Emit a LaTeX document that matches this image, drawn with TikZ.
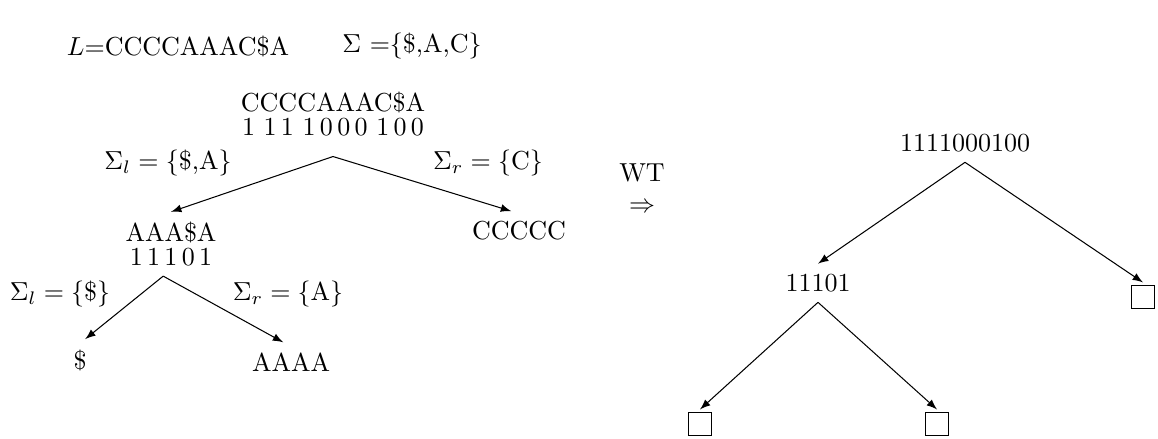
\documentclass[tikz,border=0pt]{standalone}
\usepackage{amssymb}
\usetikzlibrary{positioning}
\tikzset{
  wnode/.style={inner sep=3pt, outer sep=1pt, align=center},
  leafbox/.style={draw, line width=0.4pt, minimum size=9.2pt, inner sep=0pt, outer sep=1pt},
  branch/.style={->, >=latex},
}
\begin{document}
\begin{tikzpicture}[x=0.013514cm, y=-0.013514cm]
  \useasboundingbox (0,0) rectangle (1158,439);
  % alphabet and text
  \node (word) at (178,46) {$L$=CCCCAAAC\$A};
  \node (alpha) at (412,46) {$\Sigma$ =\{\$,A,C\}};

  % splitting of the text
  \node[wnode] (root) at (333,114) {CCCCAAAC\$A\\[-3pt]1 1\,1 1\,0\,0\,0 1\,0\,0};
  \node[wnode] (left) at (171,244) {AAA\$A\\[-3pt]1\,1\,1\,0\,1};
  \node[wnode] (right) at (519,231) {CCCCC};
  \node[wnode] (leftleft) at (80,360) {\$};
  \node[wnode] (leftright) at (291,362) {AAAA};
  \draw[branch] ([yshift=-4pt]root.south) -- (left.north);
  \draw[branch] ([yshift=-4pt]root.south) -- ([xshift=-3pt]right.north);
  \draw[branch] ([xshift=-3pt]left.south) -- ([xshift=2pt]leftleft.north);
  \draw[branch] ([xshift=-3pt]left.south) -- ([xshift=-3pt]leftright.north);
  \node (sl) at (168,163) {$\Sigma_l=\{$\$,A$\}$};
  \node (sr) at (488,163) {$\Sigma_r=\{$C$\}$};
  \node (sll) at (60,294) {$\Sigma_l=\{$\$$\}$};
  \node (slr) at (288,294) {$\Sigma_r=\{$A$\}$};

  \node[align=center] (wt) at (642,188) {WT\\$\Rightarrow$};

  % wavelet tree
  \node[wnode] (wroot) at (965,143) {1111000100};
  \node[wnode] (wleft) at (818,283) {11101};
  \node[leafbox] (wright) at (1143,297) {};
  \node[leafbox] (wll) at (700,424) {};
  \node[leafbox] (wlr) at (937,424) {};
  \draw[branch] (wroot.south) -- (wleft.north);
  \draw[branch] (wroot.south) -- (wright.north);
  \draw[branch] (wleft.south) -- (wll.north);
  \draw[branch] (wleft.south) -- (wlr.north);
\end{tikzpicture}
\end{document}
